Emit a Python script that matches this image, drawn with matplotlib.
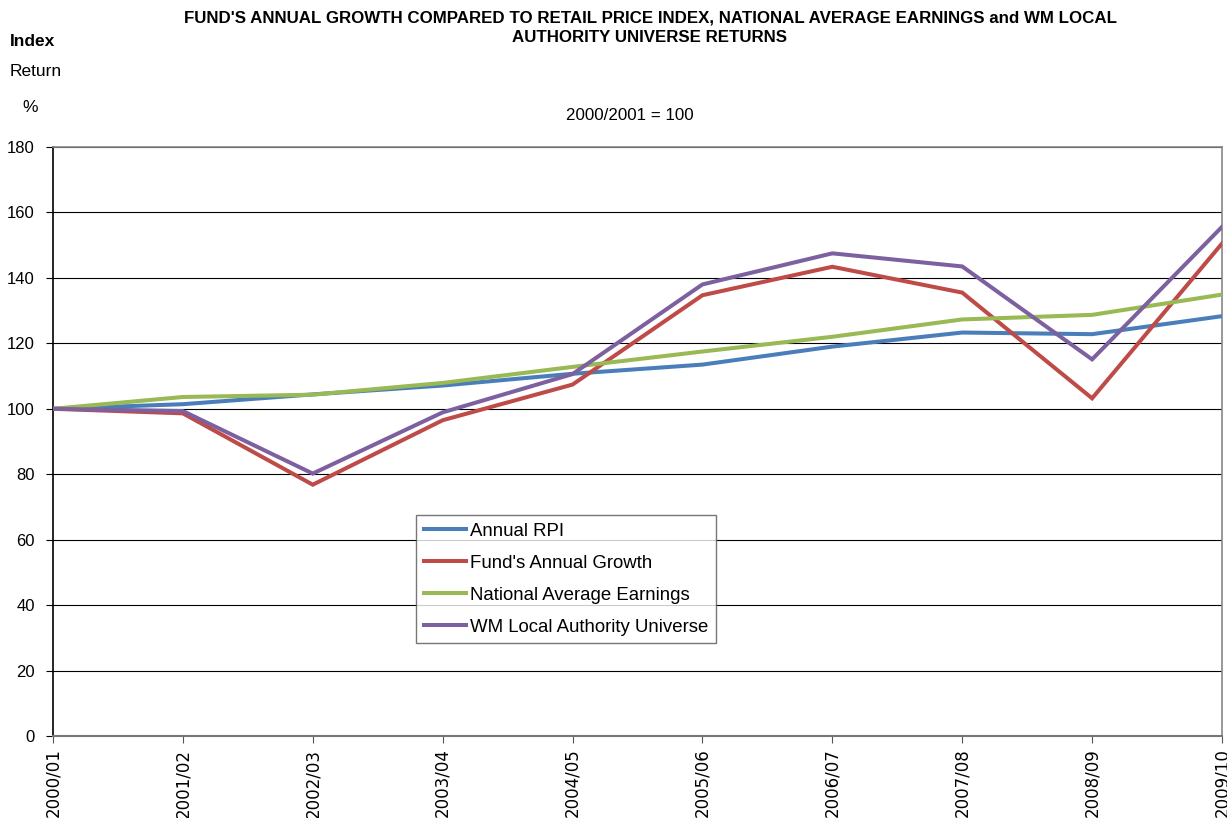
import matplotlib
matplotlib.use("Agg")
import matplotlib.pyplot as plt
from matplotlib.lines import Line2D

plt.rcParams['font.family'] = ['Liberation Sans', 'DejaVu Sans']

years = ["2000/01", "2001/02", "2002/03", "2003/04", "2004/05",
         "2005/06", "2006/07", "2007/08", "2008/09", "2009/10"]
annual_rpi = [100, 101.4, 104.4, 107.1, 110.7, 113.5, 119.0, 123.3, 122.8, 128.3]
fund_growth = [100, 98.6, 76.8, 96.5, 107.4, 134.7, 143.4, 135.5, 103.2, 150.5]
avg_earnings = [100, 103.6, 104.3, 107.9, 112.8, 117.5, 122.0, 127.3, 128.7, 134.9]
wm_universe = [100, 99.3, 80.2, 98.9, 110.6, 138.0, 147.5, 143.5, 115.1, 155.6]

series = [
    ("Annual RPI", annual_rpi, "#4A7EBB"),
    ("Fund's Annual Growth", fund_growth, "#BE4B48"),
    ("National Average Earnings", avg_earnings, "#98B954"),
    ("WM Local Authority Universe", wm_universe, "#7D60A0"),
]

W, H = 1227, 818
fig = plt.figure(figsize=(W / 100, H / 100), dpi=100)
ax = fig.add_axes([53 / W, (H - 736) / H, (1222 - 53) / W, (736 - 147) / H])

x = list(range(len(years)))
for label, vals, col in series:
    ax.plot(x, vals, color=col, lw=2.9, solid_joinstyle='miter', label=label, zorder=3)

ax.set_xlim(0, len(years) - 1)
ax.set_ylim(0, 180)
ax.set_yticks(range(0, 181, 20))
ax.set_xticks(x)
ax.set_xticklabels(years, rotation=90, fontsize=12, family='DejaVu Sans')
ax.tick_params(axis='y', labelsize=12, length=5, width=0.8, direction='out', pad=8)
ax.tick_params(axis='x', length=5, width=0.8, direction='out', pad=4, color='#555555')
ax.yaxis.grid(True, color='black', lw=0.8)
ax.set_axisbelow(True)
for side in ('top', 'right'):
    ax.spines[side].set_color('#888888')
    ax.spines[side].set_linewidth(1.2)
ax.spines['bottom'].set_color('#777777')
ax.spines['bottom'].set_linewidth(1.5)
ax.spines['left'].set_color('black')
ax.spines['left'].set_linewidth(1.2)

handles = [Line2D([], [], color=c, lw=2.9) for _, _, c in series]
labels = [s[0] for s in series]
leg = fig.legend(handles, labels, loc='upper left',
                 bbox_to_anchor=(416 / W, 1 - 515 / H), fontsize=13.4,
                 frameon=True, fancybox=False, edgecolor='#555555',
                 handlelength=2.26, handletextpad=0.2, labelspacing=0.8,
                 borderpad=0.42, borderaxespad=0)
leg.get_frame().set_linewidth(1.0)

fig.text(650 / W, 1 - 18 / H,
         "FUND'S ANNUAL GROWTH COMPARED TO RETAIL PRICE INDEX, NATIONAL AVERAGE EARNINGS and WM LOCAL",
         ha='center', va='center', fontsize=12.2, fontweight='bold')
fig.text(650 / W, 1 - 38 / H, "AUTHORITY UNIVERSE RETURNS",
         ha='center', va='center', fontsize=12.2, fontweight='bold')
fig.text(10 / W, 1 - 42 / H, "Index", ha='left', va='center', fontsize=12.5, fontweight='bold')
fig.text(10 / W, 1 - 72 / H, "Return", ha='left', va='center', fontsize=12.5)
fig.text(22 / W, 1 - 107 / H, "%", ha='left', va='center', fontsize=12.5)
fig.text(630 / W, 1 - 116 / H, "2000/2001 = 100", ha='center', va='center', fontsize=12.2)

fig.savefig("out.png", dpi=100, facecolor='white')
